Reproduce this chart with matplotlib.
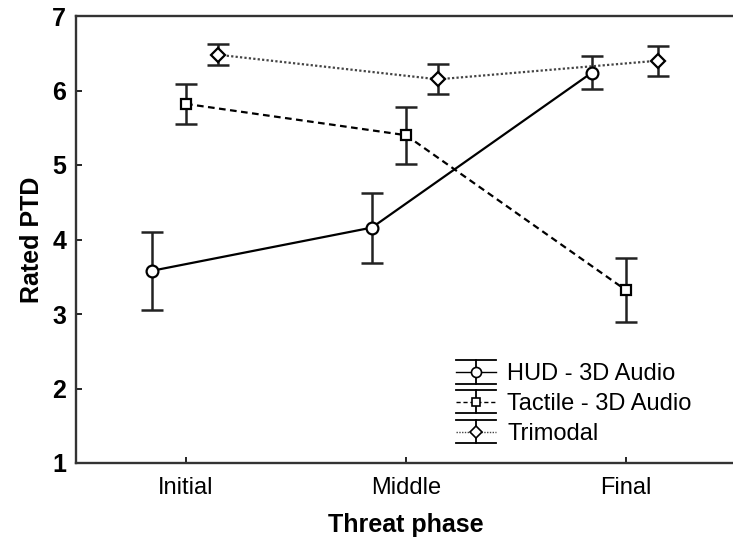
import matplotlib
matplotlib.use("Agg")
import matplotlib.pyplot as plt
from matplotlib.lines import Line2D
from matplotlib.legend_handler import HandlerBase
import numpy as np

plt.rcParams['font.family'] = ['Liberation Sans', 'DejaVu Sans']

phases = ["Initial", "Middle", "Final"]
series_names = ["HUD - 3D Audio", "Tactile - 3D Audio", "Trimodal"]

hud_mean = [3.58, 4.16, 6.24]
hud_err = [0.52, 0.47, 0.22]
tactile_mean = [5.82, 5.40, 3.32]
tactile_err = [0.27, 0.38, 0.43]
trimodal_mean = [6.48, 6.15, 6.40]
trimodal_err = [0.14, 0.20, 0.20]

y_ticks = [1, 2, 3, 4, 5, 6, 7]

styles = [
    dict(mean=hud_mean, err=hud_err, offset=-0.155, ls='-', marker='o', ms=8.5,
         color='black', lw=1.6),
    dict(mean=tactile_mean, err=tactile_err, offset=0.0, ls=(0, (3, 2)), marker='s', ms=7.5,
         color='black', lw=1.6),
    dict(mean=trimodal_mean, err=trimodal_err, offset=0.145, ls=(0, (1, 1)), marker='D', ms=7.5,
         color='#444444', lw=1.6),
]

fig = plt.figure(figsize=(7.33, 5.41), dpi=100)
ax = fig.add_axes([76 / 733, 78 / 541, 660 / 733, 447 / 541])

x = np.arange(len(phases))
for st in styles:
    xs = x + st['offset']
    ax.errorbar(xs, st['mean'], yerr=st['err'], fmt='none', ecolor='#222222',
                elinewidth=1.8, capsize=8, capthick=1.8, zorder=2)
    ax.plot(xs, st['mean'], linestyle=st['ls'], color=st['color'], lw=st['lw'],
            zorder=3)
    ax.plot(xs, st['mean'], linestyle='none', marker=st['marker'], ms=st['ms'],
            mfc='white', mec='black', mew=1.6, zorder=4)

ax.set_xlim(-0.5, 2.5)
ax.set_ylim(1, 7)
ax.set_xticks(x)
ax.set_xticklabels(phases, fontsize=17)
ax.set_yticks(y_ticks)
ax.set_yticklabels([str(t) for t in y_ticks], fontsize=18, fontweight='bold')
ax.tick_params(axis='both', direction='in', length=4, width=1.2, color='black')
ax.tick_params(axis='x', pad=10)
ax.tick_params(axis='y', pad=7)

for side in ['left', 'top', 'bottom']:
    ax.spines[side].set_linewidth(1.7)
    ax.spines[side].set_color('#333333')
ax.spines['right'].set_visible(False)

ax.set_xlabel("Threat phase", fontsize=18, fontweight='bold', labelpad=10)
ax.set_ylabel("Rated PTD", fontsize=18, fontweight='bold', labelpad=6)


class SeriesKey:
    def __init__(self, ls, marker, ms, color):
        self.ls = ls
        self.marker = marker
        self.ms = ms
        self.color = color


class SeriesKeyHandler(HandlerBase):
    def create_artists(self, legend, orig_handle, xdescent, ydescent, width,
                       height, fontsize, trans):
        x0, x1 = -xdescent, -xdescent + width
        yc = -ydescent + height / 2
        xc = (x0 + x1) / 2
        half = height * 0.7
        art = []
        art.append(Line2D([x0, x1], [yc, yc], linestyle=orig_handle.ls,
                          color=orig_handle.color, lw=1.0, transform=trans))
        art.append(Line2D([xc, xc], [yc - half, yc + half], color='black',
                          lw=1.3, transform=trans))
        art.append(Line2D([x0, x1], [yc + half, yc + half], color='black',
                          lw=1.3, transform=trans))
        art.append(Line2D([x0, x1], [yc - half, yc - half], color='black',
                          lw=1.3, transform=trans))
        art.append(Line2D([xc], [yc], linestyle='none', marker=orig_handle.marker,
                          ms=orig_handle.ms * 0.85, mfc='white', mec='black',
                          mew=1.2, transform=trans))
        return art


keys = [SeriesKey('-', 'o', 8.5, 'black'),
        SeriesKey((0, (3, 2)), 's', 7.5, 'black'),
        SeriesKey((0, (1, 1)), 'D', 7.5, '#444444')]
ax.legend(keys, series_names, handler_map={SeriesKey: SeriesKeyHandler()},
          loc='center left', bbox_to_anchor=(456 / 733, 1 - 404 / 541),
          bbox_transform=fig.transFigure, frameon=False, fontsize=17,
          handlelength=1.7, handletextpad=0.47, labelspacing=0.33,
          borderaxespad=0, borderpad=0)

fig.savefig("out.png", dpi=100)
